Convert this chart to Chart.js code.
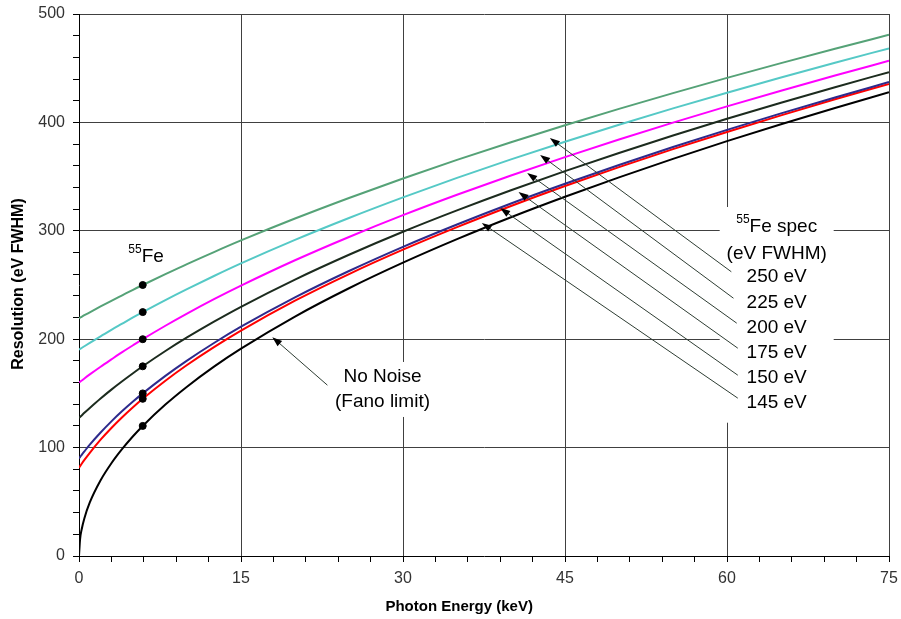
<!DOCTYPE html>
<html>
<head>
<meta charset="utf-8">
<script src="https://cdn.jsdelivr.net/npm/chart.js@4"></script>
<style>
  html, body { margin: 0; padding: 0; background: #fff; }
  #wrap { width: 901px; height: 619px; }
</style>
</head>
<body>
<div id="wrap"><canvas id="myChart"></canvas></div>
<script>
// photon energy (keV) where the curves are sampled
var energy = [0, 0.1, 0.25, 0.5, 1, 2, 3, 4, 5, 5.9, 8, 10, 12.5, 15, 20, 25, 30, 35, 40, 45, 50, 55, 60, 65, 70, 75];

// resolution (eV FWHM)
var fano = [0, 15.6, 24.7, 34.9, 49.4, 69.9, 85.6, 98.8, 110.5, 120, 139.7, 156.2, 174.7, 191.3, 220.9, 247.0, 270.6, 292.3, 312.5, 331.4, 349.3, 366.4, 382.7, 398.3, 413.3, 427.8];
var res145 = [81.4, 82.9, 85.1, 88.6, 95.2, 107.3, 118.1, 128.0, 137.2, 145, 161.7, 176.2, 192.7, 207.9, 235.5, 260.1, 282.6, 303.4, 322.9, 341.3, 358.7, 375.3, 391.2, 406.5, 421.3, 435.5];
var res150 = [90, 91.3, 93.3, 96.5, 102.7, 113.9, 124.2, 133.7, 142.5, 150, 166.2, 180.3, 196.5, 211.5, 238.6, 262.9, 285.2, 305.8, 325.2, 343.4, 360.7, 377.3, 393.1, 408.3, 423.0, 437.2];
var res175 = [127.4, 128.3, 129.7, 132.1, 136.6, 145.3, 153.5, 161.2, 168.6, 175, 189.1, 201.6, 216.2, 229.9, 255.0, 277.9, 299.1, 318.8, 337.4, 355.0, 371.8, 387.9, 403.3, 418.2, 432.5, 446.4];
var res200 = [160, 160.8, 161.9, 163.8, 167.5, 174.6, 181.4, 188.1, 194.4, 200, 212.4, 223.6, 236.9, 249.4, 272.8, 294.3, 314.4, 333.2, 351.0, 368.0, 384.2, 399.8, 414.8, 429.2, 443.2, 456.8];
var res225 = [190.3, 191.0, 191.9, 193.5, 196.6, 202.7, 208.7, 214.4, 220.1, 225, 236.1, 246.2, 258.3, 269.9, 291.6, 311.8, 330.8, 348.8, 365.9, 382.2, 397.8, 412.9, 427.4, 441.4, 455.1, 468.3];
var res250 = [219.3, 219.9, 220.7, 222.1, 224.8, 230.2, 235.4, 240.5, 245.6, 250, 260.0, 269.3, 280.4, 291.1, 311.3, 330.3, 348.3, 365.4, 381.7, 397.4, 412.5, 427.0, 441.1, 454.7, 467.9, 480.8];

// 55Fe line markers
var fe55Energy = 5.9;
var fe55Res = [250, 225, 200, 175, 150, 145, 120];

// arrow labels: text, tail and tip in data units
var specLabels = ['250 eV', '225 eV', '200 eV', '175 eV', '150 eV', '145 eV'];
var arrowTails = [[60.4, 262.2], [60.6, 237.8], [60.9, 214.8], [61.0, 191.7], [61.0, 166.8], [61.0, 145.6]];
var arrowTips = [[43.6, 385.6], [42.7, 370.0], [41.5, 353.4], [40.7, 335.8], [39.0, 321.0], [37.3, 307.2]];
var fanoTail = [23.0, 157.6];
var fanoTip = [17.9, 201.9];

var FONT = 'Arial, "Liberation Sans", sans-serif';
var X_TITLE = 'Photon Energy (keV)';
var Y_TITLE = 'Resolution (eV FWHM)';

function pts(ys) {
    return energy.map(function (e, i) { return { x: e, y: ys[i] }; });
}

function curve(label, ys, color) {
    return {
        label: label,
        data: pts(ys),
        borderColor: color,
        backgroundColor: color,
        borderWidth: 2,
        pointRadius: 0,
        cubicInterpolationMode: 'monotone',
        order: 2
    };
}

function arrow(ctx, x1, y1, x2, y2) {
    var a = Math.atan2(y2 - y1, x2 - x1);
    ctx.strokeStyle = '#2e3d33';
    ctx.lineWidth = 1;
    ctx.beginPath();
    ctx.moveTo(x1, y1);
    ctx.lineTo(x2 - 6 * Math.cos(a), y2 - 6 * Math.sin(a));
    ctx.stroke();
    ctx.fillStyle = '#000';
    ctx.beginPath();
    ctx.moveTo(x2, y2);
    ctx.lineTo(x2 - 10 * Math.cos(a) + 3.5 * Math.sin(a), y2 - 10 * Math.sin(a) - 3.5 * Math.cos(a));
    ctx.lineTo(x2 - 10 * Math.cos(a) - 3.5 * Math.sin(a), y2 - 10 * Math.sin(a) + 3.5 * Math.cos(a));
    ctx.closePath();
    ctx.fill();
}

// text with a small superscript in front, centred on cx
function supText(ctx, sup, txt, cx, cy) {
    ctx.font = '12px ' + FONT;
    var ws = ctx.measureText(sup).width;
    ctx.font = '19px ' + FONT;
    var wt = ctx.measureText(txt).width;
    var left = cx - (ws + wt) / 2;
    ctx.textAlign = 'left';
    ctx.textBaseline = 'middle';
    ctx.fillText(txt, left + ws, cy);
    ctx.font = '12px ' + FONT;
    ctx.fillText(sup, left, cy - 7);
}

var notes = {
    id: 'notes',
    afterDatasetsDraw: function (chart) {
        var ctx = chart.ctx;
        var x = chart.scales.x, y = chart.scales.y;
        ctx.save();

        // spec label block
        var cx = x.getPixelForValue(64.6);
        var top = y.getPixelForValue(303.5);
        var lh = 25.1;
        ctx.fillStyle = '#fff';
        ctx.fillRect(cx - 57, top - 20, 114, lh * 7 + 40);
        ctx.fillRect(x.getPixelForValue(23.2), y.getPixelForValue(179), 105, 55);

        for (var i = 0; i < specLabels.length; i++) {
            arrow(ctx, x.getPixelForValue(arrowTails[i][0]), y.getPixelForValue(arrowTails[i][1]),
                x.getPixelForValue(arrowTips[i][0]), y.getPixelForValue(arrowTips[i][1]));
        }
        arrow(ctx, x.getPixelForValue(fanoTail[0]), y.getPixelForValue(fanoTail[1]),
            x.getPixelForValue(fanoTip[0]), y.getPixelForValue(fanoTip[1]));

        ctx.fillStyle = '#000';
        supText(ctx, '55', 'Fe spec', cx, top);
        ctx.font = '19px ' + FONT;
        ctx.textAlign = 'center';
        ctx.textBaseline = 'middle';
        ctx.fillText('(eV FWHM)', cx, top + lh * 1.05);
        for (var j = 0; j < specLabels.length; j++) {
            ctx.fillText(specLabels[j], cx, top + lh * (2 + j));
        }

        var nx = x.getPixelForValue(28.1);
        var ny = y.getPixelForValue(165.4);
        ctx.fillText('No Noise', nx, ny);
        ctx.fillText('(Fano limit)', nx, ny + 25);

        supText(ctx, '55', 'Fe', x.getPixelForValue(6.3) - 1, y.getPixelForValue(275.8));

        // axis titles, placed as in the original (x title a little left of centre)
        ctx.font = 'bold 15px ' + FONT;
        ctx.textAlign = 'center';
        ctx.textBaseline = 'middle';
        ctx.fillText(X_TITLE, x.getPixelForValue(35.2), 607);
        ctx.translate(19, y.getPixelForValue(250) - 1);
        ctx.rotate(-Math.PI / 2);
        ctx.font = 'bold 16px ' + FONT;
        ctx.fillText(Y_TITLE, 0, 0);
        ctx.restore();
    }
};

function noPad(s) {
    s.paddingTop = 0;
    s.paddingBottom = 0;
    s.paddingLeft = 0;
    s.paddingRight = 0;
}

var ctx = document.getElementById('myChart').getContext('2d');
var chart = new Chart(ctx, {
    type: 'line',
    data: {
        datasets: [
            curve('250 eV', res250, '#55a277'),
            curve('225 eV', res225, '#55c9c6'),
            curve('200 eV', res200, '#ff00ff'),
            curve('175 eV', res175, '#1c2b1e'),
            curve('150 eV', res150, '#2e2a8c'),
            curve('145 eV', res145, '#ff0000'),
            curve('No Noise (Fano limit)', fano, '#000000'),
            {
                label: '55Fe',
                data: fe55Res.map(function (r) { return { x: fe55Energy, y: r }; }),
                showLine: false,
                pointRadius: 3.5,
                pointBackgroundColor: '#000',
                pointBorderColor: '#000',
                order: 1
            }
        ]
    },
    options: {
        responsive: true,
        maintainAspectRatio: false,
        animation: false,
        layout: { padding: { top: 14, right: 12, left: 0, bottom: 0 } },
        plugins: {
            legend: { display: false },
            tooltip: { enabled: false }
        },
        scales: {
            x: {
                type: 'linear',
                min: 0,
                max: 75,
                afterFit: function (s) { s.height = 63; noPad(s); },
                ticks: {
                    stepSize: 3,
                    maxRotation: 0,
                    autoSkip: false,
                    padding: 7,
                    color: '#333',
                    font: { family: FONT, size: 16 },
                    callback: function (v) { return v % 15 === 0 ? v : ''; }
                },
                grid: {
                    color: function (c) { return c.tick && c.tick.value % 15 === 0 && c.tick.value > 0 ? '#404040' : 'rgba(0,0,0,0)'; },
                    tickColor: '#000',
                    tickLength: 6,
                    lineWidth: 1
                },
                border: { color: '#000', width: 1 },
                title: { display: false }
            },
            y: {
                min: 0,
                max: 500,
                afterFit: function (s) { s.width = 79; noPad(s); },
                ticks: {
                    stepSize: 20,
                    autoSkip: false,
                    padding: 8,
                    color: '#333',
                    font: { family: FONT, size: 16 },
                    callback: function (v) { return v % 100 === 0 ? v : ''; }
                },
                grid: {
                    color: function (c) { return c.tick && c.tick.value % 100 === 0 && c.tick.value > 0 ? '#404040' : 'rgba(0,0,0,0)'; },
                    tickColor: '#000',
                    tickLength: 6,
                    lineWidth: 1
                },
                border: { color: '#000', width: 1 },
                title: { display: false }
            }
        }
    },
    plugins: [notes]
});
</script>
</body>
</html>
